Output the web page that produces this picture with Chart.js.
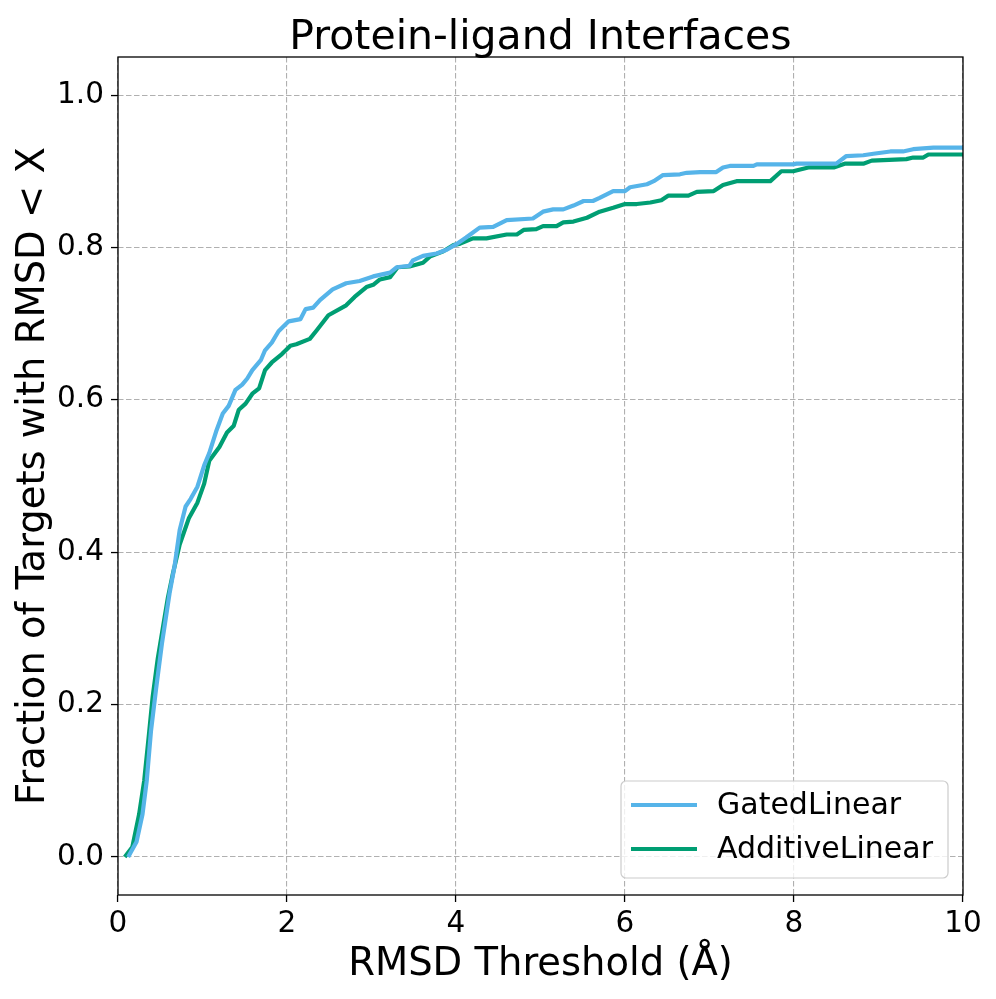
<!DOCTYPE html>
<html>
<head>
<meta charset="utf-8">
<script src="https://cdn.jsdelivr.net/npm/chart.js@4.4.0/dist/chart.umd.min.js"></script>
<style>
  body { margin: 0; background: #fff; }
  #wrap { width: 996px; height: 999px; }
</style>
</head>
<body>
<div id="wrap"><canvas id="rmsd-chart" width="996" height="999"></canvas></div>
<script>
var chartTitle = "Protein-ligand Interfaces";
var seriesNames = ["GatedLinear", "AdditiveLinear"];
var seriesColors = ["#56B4E9", "#009E73"];
var xTicks = [0, 2, 4, 6, 8, 10];
var yTicks = [0.0, 0.2, 0.4, 0.6, 0.8, 1.0];

// values
var gatedX = [0.12, 0.22, 0.29, 0.34, 0.39, 0.45, 0.52, 0.61, 0.67, 0.73, 0.80, 0.86, 0.94, 1.02, 1.08,
  1.16, 1.24, 1.31, 1.39, 1.47, 1.53, 1.59, 1.69, 1.74, 1.82, 1.90, 2.02, 2.16, 2.22, 2.31, 2.39, 2.54,
  2.70, 2.86, 3.02, 3.22, 3.30, 3.45, 3.49, 3.61, 3.77, 3.89, 4.00, 4.12, 4.28, 4.44, 4.60, 4.91, 5.03,
  5.15, 5.27, 5.39, 5.51, 5.62, 5.70, 5.86, 6.00, 6.06, 6.26, 6.34, 6.45, 6.65, 6.73, 6.89, 7.08, 7.16,
  7.24, 7.52, 7.56, 7.99, 8.03, 8.50, 8.62, 8.82, 8.94, 9.14, 9.29, 9.41, 9.65, 10.0];
var gatedY = [0, 0.02, 0.056, 0.10, 0.165, 0.22, 0.28, 0.346, 0.382, 0.429, 0.46, 0.47, 0.486, 0.514, 0.53,
  0.558, 0.582, 0.592, 0.613, 0.62, 0.628, 0.639, 0.652, 0.665, 0.675, 0.69, 0.703, 0.706, 0.719, 0.721, 0.731, 0.745,
  0.753, 0.756, 0.762, 0.767, 0.774, 0.776, 0.783, 0.789, 0.792, 0.797, 0.804, 0.813, 0.826, 0.827, 0.836, 0.838, 0.847,
  0.85, 0.85, 0.855, 0.861, 0.861, 0.865, 0.874, 0.874, 0.879, 0.883, 0.887, 0.895, 0.896, 0.898, 0.899, 0.899, 0.905,
  0.907, 0.907, 0.909, 0.909, 0.91, 0.91, 0.92, 0.921, 0.923, 0.926, 0.926, 0.929, 0.931, 0.931];

var additiveX = [0.08, 0.17, 0.25, 0.31, 0.37, 0.41, 0.47, 0.53, 0.59, 0.65, 0.73, 0.84, 0.94, 1.02, 1.08,
  1.20, 1.29, 1.37, 1.43, 1.51, 1.59, 1.67, 1.74, 1.82, 1.94, 2.04, 2.11, 2.27, 2.35, 2.49, 2.70, 2.80,
  2.94, 3.02, 3.10, 3.22, 3.31, 3.45, 3.61, 3.69, 3.85, 3.97, 4.05, 4.20, 4.36, 4.60, 4.72, 4.80, 4.95,
  5.03, 5.19, 5.27, 5.39, 5.55, 5.70, 5.86, 6.00, 6.14, 6.30, 6.43, 6.51, 6.75, 6.85, 7.05, 7.16, 7.32,
  7.72, 7.85, 7.99, 8.17, 8.47, 8.60, 8.82, 8.92, 9.33, 9.41, 9.53, 9.59, 10.0];
var additiveY = [0, 0.013, 0.056, 0.10, 0.165, 0.21, 0.26, 0.30, 0.34, 0.372, 0.41, 0.445, 0.465, 0.49, 0.52,
  0.538, 0.557, 0.566, 0.587, 0.595, 0.608, 0.615, 0.639, 0.649, 0.66, 0.671, 0.673, 0.68, 0.691, 0.711, 0.724, 0.735,
  0.748, 0.751, 0.758, 0.761, 0.774, 0.775, 0.78, 0.788, 0.795, 0.803, 0.805, 0.812, 0.812, 0.817, 0.817, 0.823, 0.824,
  0.828, 0.828, 0.833, 0.834, 0.839, 0.847, 0.852, 0.857, 0.857, 0.859, 0.862, 0.868, 0.868, 0.873, 0.874, 0.882, 0.887,
  0.887, 0.9, 0.9, 0.905, 0.905, 0.91, 0.91, 0.914, 0.916, 0.918, 0.918, 0.922, 0.922];

function toPoints(xs, ys) {
  return xs.map(function (x, i) { return { x: x, y: ys[i] }; });
}

Chart.defaults.font.family = "'DejaVu Sans', sans-serif";
Chart.defaults.color = "#000";

// title centred over the plot area (matplotlib style)
var axesTitle = {
  id: 'axesTitle',
  afterDraw: function (chart) {
    var a = chart.chartArea, ctx = chart.ctx;
    ctx.save();
    ctx.font = "41px 'DejaVu Sans'";
    ctx.fillStyle = "#000";
    ctx.textAlign = "center";
    ctx.textBaseline = "alphabetic";
    ctx.fillText(chartTitle, (a.left + a.right) / 2, 49);
    ctx.restore();
  }
};

// full box around the plot, like matplotlib spines
var frame = {
  id: 'frame',
  afterDatasetsDraw: function (chart) {
    var a = chart.chartArea, ctx = chart.ctx;
    ctx.save();
    ctx.strokeStyle = "#000";
    ctx.lineWidth = 1.3;
    ctx.strokeRect(a.left, a.top, a.right - a.left, a.bottom - a.top);
    ctx.restore();
  }
};

// legend inside the lower right corner
var legendBox = {
  id: 'legendBox',
  afterDraw: function (chart) {
    var a = chart.chartArea, ctx = chart.ctx;
    var w = 327, h = 97;
    var x = a.right - 15 - w, y = a.bottom - 17 - h;
    ctx.save();
    ctx.beginPath();
    ctx.roundRect(x, y, w, h, 5);
    ctx.fillStyle = "rgba(255,255,255,0.8)";
    ctx.fill();
    ctx.strokeStyle = "#cccccc";
    ctx.lineWidth = 1.2;
    ctx.stroke();
    ctx.font = "30px 'DejaVu Sans'";
    ctx.textBaseline = "middle";
    chart.data.datasets.forEach(function (ds, i) {
      var ry = y + 24 + i * 44;
      ctx.beginPath();
      ctx.moveTo(x + 10, ry);
      ctx.lineTo(x + 76, ry);
      ctx.strokeStyle = ds.borderColor;
      ctx.lineWidth = 4.2;
      ctx.stroke();
      ctx.fillStyle = "#000";
      ctx.fillText(ds.label, x + 96, ry + 1);
    });
    ctx.restore();
  }
};

var gridStyle = {
  color: "#b0b0b0",
  lineWidth: 1.1,
  tickColor: "#000",
  tickWidth: 1.3,
  tickLength: 7,
  tickBorderDash: []
};

new Chart(document.getElementById("rmsd-chart"), {
  type: 'line',
  data: {
    datasets: [
      { label: seriesNames[0], data: toPoints(gatedX, gatedY), borderColor: seriesColors[0] },
      { label: seriesNames[1], data: toPoints(additiveX, additiveY), borderColor: seriesColors[1] }
    ]
  },
  options: {
    responsive: false,
    animation: false,
    devicePixelRatio: 1,
    layout: { padding: { left: 0, right: 33, top: 57, bottom: 0 } },
    elements: {
      line: { borderWidth: 4.2, tension: 0, borderJoinStyle: 'round', borderCapStyle: 'butt', fill: false },
      point: { radius: 0, hoverRadius: 0 }
    },
    plugins: {
      legend: { display: false },
      tooltip: { enabled: false },
      title: { display: false }
    },
    scales: {
      x: {
        type: 'linear',
        min: 0,
        max: 10,
        grid: gridStyle,
        border: { display: false, dash: [5.5, 2.5] },
        afterBuildTicks: function (scale) {
          scale.ticks = xTicks.map(function (v) { return { value: v }; });
        },
        afterFit: function (scale) { scale.height = 104; },
        ticks: {
          font: { size: 29.5 },
          padding: 5,
          maxRotation: 0,
          callback: function (v) { return String(v); }
        },
        title: {
          display: true,
          text: 'RMSD Threshold (Å)',
          font: { size: 38.5, lineHeight: 1.2 },
          padding: { top: 0, bottom: 11 }
        }
      },
      y: {
        type: 'linear',
        min: -0.05,
        max: 1.05,
        grid: gridStyle,
        border: { display: false, dash: [5.5, 2.5] },
        afterBuildTicks: function (scale) {
          scale.ticks = yTicks.map(function (v) { return { value: v }; });
        },
        afterFit: function (scale) { scale.width = 118; },
        ticks: {
          font: { size: 29.5 },
          padding: 7,
          callback: function (v) { return Number(v).toFixed(1); }
        },
        title: {
          display: true,
          text: 'Fraction of Targets with RMSD < X',
          font: { size: 38.5, lineHeight: 1.2 },
          padding: { top: 11, bottom: 0 }
        }
      }
    }
  },
  plugins: [frame, legendBox, axesTitle]
});
</script>
</body>
</html>
